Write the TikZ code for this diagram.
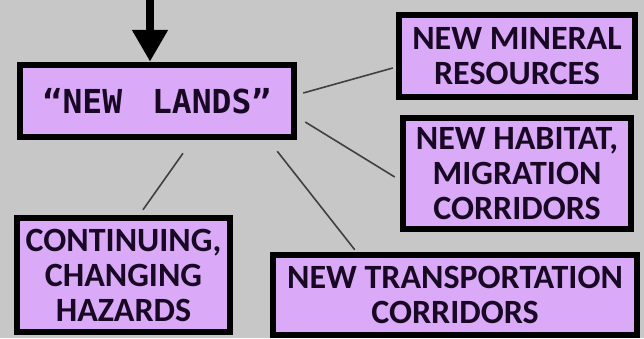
\documentclass[tikz,border=0pt]{standalone}
\usepackage{fontspec}
\setmainfont{Carlito}
\newfontfamily\pixelfont{DejaVu Sans Mono}
\usetikzlibrary{arrows.meta,positioning}
\definecolor{bggray}{RGB}{199,199,199}
\definecolor{lilac}{RGB}{218,170,248}
\definecolor{inkdark}{RGB}{24,8,36}

\begin{document}
\begin{tikzpicture}[
  x=1pt, y=-1pt,
  box/.style={draw=black, line width=6.5pt, fill=lilac, align=center, inner sep=0pt,
    text=inkdark, font=\bfseries\fontsize{34}{35}\selectfont},
  landbox/.style={box, font=\pixelfont\bfseries\fontsize{33}{34}\selectfont},
  link/.style={draw=black!75, line width=1.6pt},
  arr/.style={-{Triangle[length=32pt,width=34pt]}, line width=8pt}
]
\fill[bggray] (0,0) rectangle (644,338);
\useasboundingbox (0,0) rectangle (644,338);

\node[landbox, minimum width=274pt, minimum height=72pt] (lands) at (157,101) {“NEW\hspace{30pt}LANDS”};
\node[box, minimum width=236pt, minimum height=82pt] (mineral) at (517,56) {NEW MINERAL\\RESOURCES};
\node[box, minimum width=228pt, minimum height=111pt] (habitat) at (517,173.5) {NEW HABITAT,\\MIGRATION\\CORRIDORS};
\node[box, minimum width=213pt, minimum height=114pt] (hazards) at (123.5,275) {CONTINUING,\\CHANGING\\HAZARDS};
\node[box, minimum width=364pt, minimum height=80pt] (transport) at (455,295) {NEW TRANSPORTATION\\CORRIDORS};

% incoming arrow
\coordinate (src) at (150,0);
\draw[arr] (src) -- (src |- lands.north);

\draw[link] ([xshift=6pt,yshift=8pt]lands.east) -- ([xshift=-3pt,yshift=-12pt]mineral.west);
\draw[link] ([xshift=8pt,yshift=-21pt]lands.east) -- ([xshift=-5pt,yshift=-3.5pt]habitat.west);
\draw[link] ([xshift=26pt,yshift=-13pt]lands.south) -- ([xshift=19.5pt,yshift=5pt]hazards.north);
\draw[link] ([xshift=-20pt,yshift=-11pt]lands.south east) -- ([xshift=85pt,yshift=2pt]transport.north west);
\end{tikzpicture}
\end{document}
